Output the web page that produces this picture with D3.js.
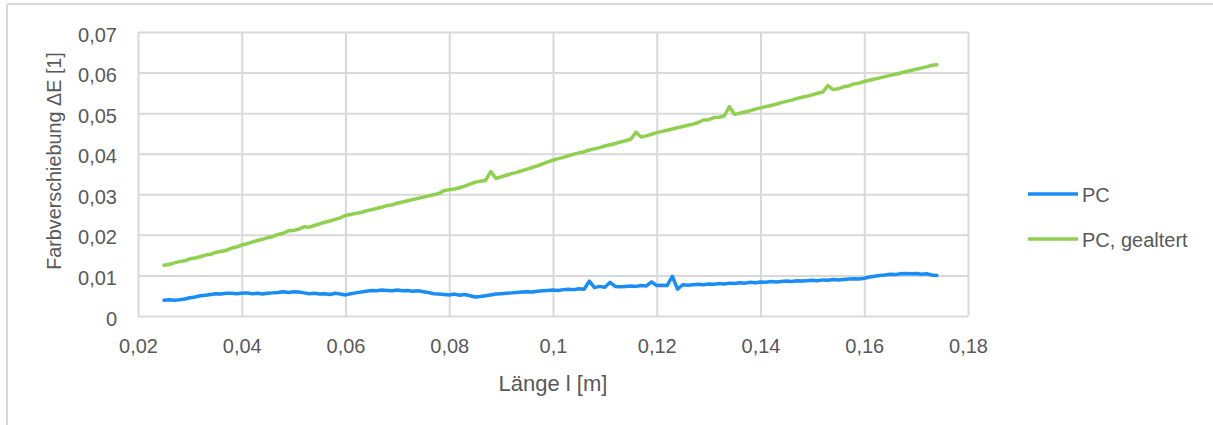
<!DOCTYPE html>
<html><head><meta charset="utf-8">
<script src="https://cdn.jsdelivr.net/npm/d3@7"></script>
<style>body{margin:0;background:#fff}svg{display:block;font-family:"Liberation Sans",Arial,sans-serif}</style>
</head><body><svg id="c" width="1213" height="425"></svg>
<script>
const lengths = [0.025,0.026,0.027,0.028,0.029,0.030,0.031,0.032,0.033,0.034,0.035,0.036,0.037,0.038,0.039,0.040,0.041,0.042,0.043,0.044,0.045,0.046,0.047,0.048,0.049,0.050,0.051,0.052,0.053,0.054,0.055,0.056,0.057,0.058,0.059,0.060,0.061,0.062,0.063,0.064,0.065,0.066,0.067,0.068,0.069,0.070,0.071,0.072,0.073,0.074,0.075,0.076,0.077,0.078,0.079,0.080,0.081,0.082,0.083,0.084,0.085,0.086,0.087,0.088,0.089,0.090,0.091,0.092,0.093,0.094,0.095,0.096,0.097,0.098,0.099,0.100,0.101,0.102,0.103,0.104,0.105,0.106,0.107,0.108,0.109,0.110,0.111,0.112,0.113,0.114,0.115,0.116,0.117,0.118,0.119,0.120,0.121,0.122,0.123,0.124,0.125,0.126,0.127,0.128,0.129,0.130,0.131,0.132,0.133,0.134,0.135,0.136,0.137,0.138,0.139,0.140,0.141,0.142,0.143,0.144,0.145,0.146,0.147,0.148,0.149,0.150,0.151,0.152,0.153,0.154,0.155,0.156,0.157,0.158,0.159,0.160,0.161,0.162,0.163,0.164,0.165,0.166,0.167,0.168,0.169,0.170,0.171,0.172,0.173,0.174];
const pcValues = [0.0039,0.0040,0.0039,0.0040,0.0042,0.0045,0.0047,0.0050,0.0051,0.0053,0.0055,0.0054,0.0056,0.0056,0.0055,0.0056,0.0057,0.0055,0.0056,0.0054,0.0056,0.0057,0.0058,0.0060,0.0058,0.0060,0.0059,0.0057,0.0055,0.0056,0.0054,0.0055,0.0053,0.0056,0.0054,0.0052,0.0055,0.0057,0.0059,0.0061,0.0063,0.0062,0.0064,0.0063,0.0062,0.0064,0.0062,0.0063,0.0061,0.0062,0.0060,0.0058,0.0055,0.0054,0.0053,0.0052,0.0054,0.0051,0.0053,0.0050,0.0047,0.0048,0.0050,0.0052,0.0054,0.0055,0.0056,0.0057,0.0058,0.0059,0.0060,0.0059,0.0061,0.0062,0.0063,0.0064,0.0063,0.0065,0.0066,0.0065,0.0067,0.0066,0.0086,0.0070,0.0073,0.0071,0.0083,0.0073,0.0072,0.0073,0.0074,0.0073,0.0075,0.0074,0.0084,0.0075,0.0076,0.0075,0.0098,0.0066,0.0077,0.0076,0.0077,0.0078,0.0077,0.0079,0.0078,0.0080,0.0079,0.0081,0.0080,0.0082,0.0081,0.0083,0.0082,0.0084,0.0083,0.0085,0.0084,0.0085,0.0086,0.0085,0.0087,0.0086,0.0087,0.0088,0.0087,0.0089,0.0088,0.0090,0.0089,0.0090,0.0091,0.0092,0.0091,0.0093,0.0096,0.0098,0.0100,0.0101,0.0103,0.0102,0.0104,0.0105,0.0104,0.0105,0.0103,0.0104,0.0101,0.0100];
const pcAgedValues = [0.0125,0.0127,0.0131,0.0134,0.0136,0.0141,0.0143,0.0146,0.0150,0.0152,0.0157,0.0159,0.0162,0.0167,0.0170,0.0175,0.0178,0.0182,0.0186,0.0189,0.0193,0.0196,0.0201,0.0204,0.0210,0.0211,0.0214,0.0220,0.0219,0.0223,0.0227,0.0231,0.0234,0.0238,0.0242,0.0248,0.0250,0.0253,0.0255,0.0259,0.0262,0.0265,0.0268,0.0272,0.0274,0.0278,0.0281,0.0284,0.0287,0.0290,0.0293,0.0296,0.0299,0.0302,0.0309,0.0311,0.0313,0.0316,0.0320,0.0325,0.0330,0.0332,0.0334,0.0356,0.0339,0.0343,0.0347,0.0351,0.0354,0.0358,0.0362,0.0366,0.0370,0.0375,0.0380,0.0384,0.0388,0.0391,0.0395,0.0399,0.0402,0.0405,0.0409,0.0412,0.0415,0.0419,0.0422,0.0425,0.0429,0.0432,0.0436,0.0453,0.0441,0.0444,0.0448,0.0452,0.0455,0.0458,0.0461,0.0464,0.0467,0.0470,0.0473,0.0477,0.0483,0.0484,0.0489,0.0490,0.0493,0.0516,0.0497,0.0500,0.0503,0.0506,0.0510,0.0513,0.0516,0.0519,0.0522,0.0526,0.0529,0.0532,0.0536,0.0539,0.0542,0.0545,0.0549,0.0552,0.0568,0.0558,0.0560,0.0565,0.0567,0.0572,0.0574,0.0578,0.0581,0.0584,0.0587,0.0590,0.0593,0.0596,0.0599,0.0602,0.0605,0.0608,0.0611,0.0614,0.0618,0.0619];
const seriesNames = ["PC","PC, gealtert"];
const seriesColors = ["#1a8cf5","#8fd14f"];
const xTicks = [0.02,0.04,0.06,0.08,0.1,0.12,0.14,0.16,0.18];
const yTicks = [0,0.01,0.02,0.03,0.04,0.05,0.06,0.07];
const xTitle = "Länge l [m]";
const yTitle = "Farbverschiebung ΔE [1]";

const svg = d3.select("#c");
const L = 138, R = 968, T = 32, B = 316;
const x = d3.scaleLinear().domain([0.02,0.18]).range([L,R]);
const y = d3.scaleLinear().domain([0,0.07]).range([B,T]);
const fmt = v => String(+v.toFixed(3)).replace(".", ",");
const txt = "#595959";

// outer frame
svg.append("line").attr("x1",7).attr("x2",1213).attr("y1",4).attr("y2",4).attr("stroke","#d9d9d9").attr("stroke-width",2);
svg.append("line").attr("x1",7).attr("x2",7).attr("y1",4).attr("y2",425).attr("stroke","#d9d9d9").attr("stroke-width",2);

// grid + axes
svg.append("g").attr("transform",`translate(0,${B})`)
  .call(d3.axisBottom(x).tickValues(xTicks).tickSize(-(B-T)).tickFormat(fmt))
  .call(g=>{g.select(".domain").remove();
    g.selectAll("line").attr("stroke","#d9d9d9").attr("stroke-width",2);
    g.selectAll("text").attr("fill",txt).attr("font-size",20).attr("font-family","Liberation Sans, Arial, sans-serif").attr("dy",0).attr("y",37);});
svg.append("g").attr("transform",`translate(${L},0)`)
  .call(d3.axisLeft(y).tickValues(yTicks).tickSize(-(R-L)).tickFormat(fmt))
  .call(g=>{g.select(".domain").remove();
    g.selectAll("line").attr("stroke","#d9d9d9").attr("stroke-width",2);
    g.selectAll("text").attr("fill",txt).attr("font-size",20).attr("font-family","Liberation Sans, Arial, sans-serif").attr("x",-21).attr("dy","0.45em");});

const line = d3.line().x((d,i)=>x(lengths[i])).y(d=>y(d));
[pcValues, pcAgedValues].forEach((vals,k)=>{
  svg.append("path").datum(vals).attr("d",line).attr("fill","none")
    .attr("stroke",seriesColors[k]).attr("stroke-width",3.5).attr("stroke-linejoin","round").attr("stroke-linecap","round");
});

// legend
seriesNames.forEach((n,k)=>{
  const ly = 194 + k*45;
  svg.append("line").attr("x1",1028).attr("x2",1078).attr("y1",ly).attr("y2",ly).attr("stroke",seriesColors[k]).attr("stroke-width",3.5);
  svg.append("text").attr("x",1082).attr("y",ly).attr("dy","0.38em").attr("fill",txt).attr("font-size",20).text(n);
});

svg.append("text").attr("x",553).attr("y",391).attr("text-anchor","middle").attr("fill",txt).attr("font-size",22).text(xTitle);
svg.append("text").attr("transform","translate(61,161) rotate(-90)").attr("text-anchor","middle").attr("fill",txt).attr("font-size",19.8).text(yTitle);
</script></body></html>
